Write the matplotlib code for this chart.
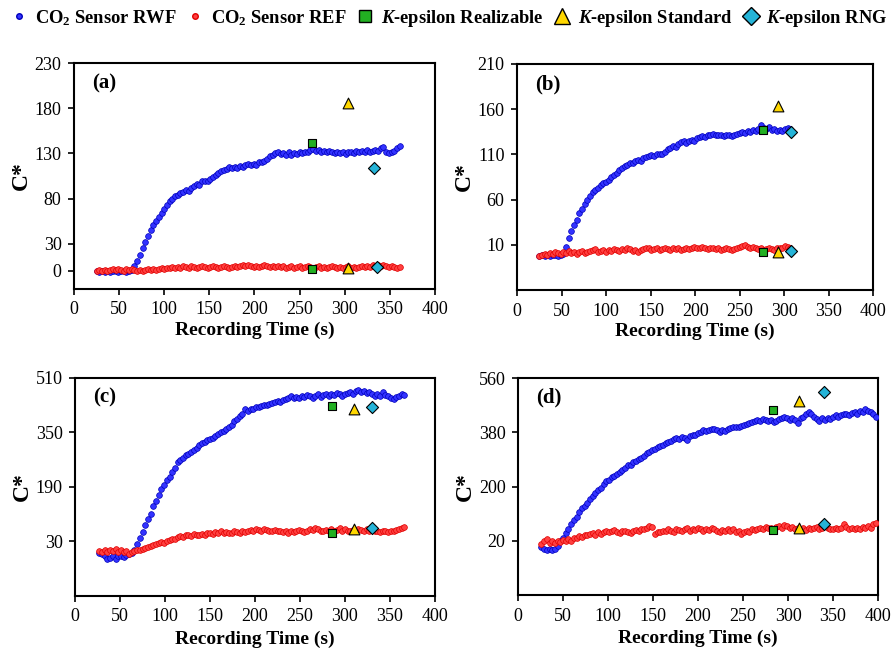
import numpy as np
import matplotlib
matplotlib.use("Agg")
import matplotlib.pyplot as plt
from matplotlib.lines import Line2D

plt.rcParams['font.family'] = ['Liberation Serif', 'DejaVu Serif']
plt.rcParams['mathtext.fontset'] = 'custom'
plt.rcParams['mathtext.rm'] = 'Liberation Serif:bold'
plt.rcParams['mathtext.bf'] = 'Liberation Serif:bold'
plt.rcParams['mathtext.it'] = 'Liberation Serif:italic:bold'
plt.rcParams['mathtext.default'] = 'bf'

# ---------------- data ----------------
# sampling: start time and step of each recorded series (s)
a_start, b_start, c_start, d_start = 25, 25, 27, 26
step = 3

a_rwf = [0, -1, 0, -1, 0, -1, 0, 0, -1, 0, 0, -1, 0, 1, 5, 11, 18, 25, 32, 39, 45, 51, 55, 60, 64, 68, 73, 77, 80, 83,
         84, 86, 87, 89, 88, 92, 94, 96, 95, 99, 100, 99, 102, 104, 106, 108, 110, 112, 113, 115, 114, 115, 114, 116, 115,
         117, 118, 117, 118, 117, 120, 121, 122, 124, 127, 128, 130, 131, 129, 130, 128, 131, 128, 130, 129, 131, 130, 132,
         131, 134, 135, 133, 134, 132, 133, 131, 133, 132, 130, 132, 130, 131, 129, 131, 132, 130, 133, 131, 133, 132, 134,
         132, 133, 134, 133, 136, 137, 131, 130, 132, 133, 136, 138]
a_ref = [0, 1, 0, 1, 0, 1, 2, 1, 2, 1, 0, 2, 1, 2, 1, 0, 1, 0, 1, 2, 1, 2, 1, 2, 3, 2, 3, 3, 4, 3, 4, 3, 5, 4, 3, 5, 4,
         3, 4, 5, 4, 3, 4, 5, 4, 3, 4, 5, 4, 3, 4, 5, 4, 5, 6, 5, 6, 5, 4, 5, 4, 5, 6, 5, 4, 5, 4, 5, 4, 5, 3, 4, 5, 3, 4,
         5, 3, 4, 5, 4, 3, 4, 5, 3, 4, 3, 4, 5, 4, 3, 4, 3, 4, 5, 3, 4, 3, 4, 5, 4, 5, 4, 6, 5, 6, 5, 6, 5, 4, 5, 4, 3, 4]

b_rwf = [-2, -1, -2, -1, -2, -1, -1, -2, -1, 0, 8, 17, 25, 32, 38, 45, 50, 55, 60, 64, 68, 71, 73, 76, 78, 80, 82, 85,
         87, 89, 93, 95, 97, 98, 100, 101, 103, 104, 103, 106, 107, 108, 109, 108, 110, 111, 110, 113, 116, 117, 119, 118,
         121, 124, 125, 123, 125, 126, 125, 128, 129, 130, 129, 131, 132, 133, 131, 132, 131, 130, 132, 131, 130, 132, 133,
         134, 135, 134, 136, 135, 137, 136, 138, 142, 139, 138, 140, 137, 138, 136, 137, 136, 138, 139, 138]
b_ref = [-2, -1, 0, -1, 1, 0, 2, 1, 0, 2, 1, 3, 1, 2, 0, 2, 3, 1, 2, 3, 4, 5, 2, 3, 4, 2, 4, 3, 5, 4, 3, 5, 4, 6, 5, 3,
         4, 2, 4, 5, 7, 6, 4, 5, 6, 4, 5, 6, 5, 4, 6, 5, 6, 4, 5, 6, 5, 7, 8, 6, 7, 8, 6, 5, 7, 6, 5, 6, 4, 5, 6, 5, 4, 5,
         6, 8, 9, 10, 8, 7, 8, 6, 5, 6, 4, 5, 6, 5, 4, 6, 7, 6, 9, 8, 7]

c_rwf = [-5, -8, -12, -22, -18, -14, -20, -14, -12, -16, -10, -8, -4, 5, 22, 40, 58, 77, 95, 110, 135, 150, 165, 185,
         195, 210, 220, 235, 245, 262, 270, 275, 283, 288, 292, 300, 305, 312, 318, 322, 328, 330, 334, 340, 345, 350, 355,
         360, 366, 372, 385, 390, 398, 405, 418, 412, 420, 418, 425, 424, 428, 430, 431, 434, 436, 440, 442, 440, 446, 448,
         452, 456, 450, 455, 452, 458, 454, 460, 456, 452, 458, 462, 455, 460, 464, 458, 463, 460, 465, 462, 458, 462, 466,
         470, 464, 472, 476, 468, 472, 466, 470, 462, 458, 462, 456, 468, 460, 456, 452, 448, 455, 458, 462, 460]
c_ref = [2, 0, 4, -2, 6, 3, 8, 0, 4, -2, 2, -6, 0, 2, 5, 4, 8, 10, 14, 16, 20, 22, 25, 28, 26, 30, 34, 36, 38, 42, 46,
         44, 48, 50, 46, 52, 50, 48, 52, 50, 54, 56, 52, 58, 54, 60, 56, 58, 54, 56, 60, 58, 56, 60, 58, 62, 64, 62, 66, 64,
         62, 66, 64, 60, 62, 64, 60, 62, 58, 60, 56, 62, 58, 60, 64, 60, 58, 62, 66, 64, 70, 66, 62, 60, 64, 62, 66, 60, 64,
         70, 62, 66, 62, 60, 64, 62, 66, 64, 62, 66, 62, 64, 60, 62, 58, 60, 62, 58, 60, 62, 64, 66, 70, 72]

d_rwf = [-2, -8, -12, -8, -12, -6, 2, 18, 30, 45, 60, 75, 88, 100, 115, 128, 135, 145, 158, 168, 178, 188, 195, 208, 218,
         222, 230, 236, 240, 248, 255, 262, 270, 272, 280, 285, 290, 296, 302, 310, 316, 322, 326, 330, 334, 338, 344, 348,
         352, 358, 362, 358, 364, 360, 356, 366, 370, 372, 378, 382, 386, 384, 388, 392, 390, 386, 382, 388, 384, 392, 394,
         396, 398, 396, 400, 404, 408, 410, 414, 416, 420, 418, 424, 420, 416, 420, 414, 418, 424, 428, 430, 426, 422, 426,
         420, 412, 428, 432, 440, 448, 440, 430, 424, 418, 426, 422, 428, 424, 430, 436, 432, 438, 440, 442, 436, 444, 448,
         440, 450, 446, 456, 452, 448, 440, 432]
d_ref = [8, 18, 26, 14, 20, 12, 18, 16, 22, 20, 26, 18, 28, 30, 36, 34, 40, 38, 42, 46, 40, 48, 44, 50, 54, 48, 52, 56,
         50, 46, 52, 54, 50, 46, 52, 56, 52, 58, 60, 64, 70, 66, 44, 50, 48, 54, 52, 58, 54, 50, 60, 56, 52, 58, 62, 54, 60,
         56, 62, 58, 54, 60, 56, 64, 58, 54, 50, 56, 52, 58, 54, 58, 48, 52, 44, 48, 54, 50, 58, 56, 60, 62, 58, 66, 62, 64,
         60, 66, 70, 64, 72, 68, 62, 66, 60, 62, 58, 64, 56, 62, 58, 64, 66, 60, 64, 68, 62, 58, 60, 64, 58, 62, 74, 66, 60,
         62, 58, 64, 60, 66, 62, 68, 64, 76, 80]

# CFD predictions: (time, value) for upper and lower points
a_real = ([264, 264], [141, 2]);  a_std = ([304, 304], [186, 3]);  a_rng = ([332, 336], [114, 4.5])
b_real = ([276, 276], [137, 1.5]); b_std = ([293, 293], [163, 2.6]); b_rng = ([308, 308], [135, 3.4])
c_real = ([286, 286], [428, 56]);  c_std = ([310, 310], [418, 66]);  c_rng = ([330, 330], [425, 70])
d_real = ([283, 283], [455, 55]);  d_std = ([312, 312], [485, 61]);  d_rng = ([340, 340], [515, 75])

panel_labels = ['(a)', '(b)', '(c)', '(d)']
ylims = [(-20, 230), (-40, 210), (-130, 510), (-160, 560)]
yticks = [[0, 30, 80, 130, 180, 230], [10, 60, 110, 160, 210], [30, 190, 350, 510], [20, 200, 380, 560]]
xticks = [0, 50, 100, 150, 200, 250, 300, 350, 400]

panels = [
    (a_start, a_rwf, a_ref, a_real, a_std, a_rng),
    (b_start, b_rwf, b_ref, b_real, b_std, b_rng),
    (c_start, c_rwf, c_ref, c_real, c_std, c_rng),
    (d_start, d_rwf, d_ref, d_real, d_std, d_rng),
]

positions = [
    [0.0831, 0.5561, 0.405, 0.3471],
    [0.5802, 0.5545, 0.400, 0.3472],
    [0.0842, 0.0845, 0.404, 0.3349],
    [0.5814, 0.0860, 0.404, 0.3333],
]

BLUE_F, BLUE_E = '#3333ff', '#0000bb'
RED_F, RED_E = '#ff4040', '#e00000'
GREEN, YELLOW, CYAN = '#22b022', '#ffd700', '#25b4d8'

fig = plt.figure(figsize=(8.91, 6.51), dpi=100)

for i, (start, rwf, ref, real, std, rng) in enumerate(panels):
    ax = fig.add_axes(positions[i])
    t_rwf = start + step * np.arange(len(rwf))
    t_ref = start + step * np.arange(len(ref))
    ax.scatter(t_rwf, rwf, s=17, facecolor=BLUE_F, edgecolor=BLUE_E, linewidths=0.5, zorder=3)
    ax.scatter(t_ref, ref, s=17, facecolor=RED_F, edgecolor=RED_E, linewidths=0.5, zorder=3)
    ax.scatter(real[0], real[1], marker='s', s=32, facecolor=GREEN, edgecolor='black', linewidths=0.8, zorder=4)
    ax.scatter(std[0], std[1], marker='^', s=60, facecolor=YELLOW, edgecolor='black', linewidths=0.8, zorder=4)
    ax.scatter(rng[0], rng[1], marker='D', s=38, facecolor=CYAN, edgecolor='black', linewidths=0.8, zorder=4)

    ax.set_xlim(0, 400)
    ax.set_ylim(*ylims[i])
    ax.set_xticks(xticks)
    ax.set_yticks(yticks[i])
    ax.tick_params(direction='out', length=4, width=1.2, labelsize=13, top=False, right=False, pad=5)
    for sp in ax.spines.values():
        sp.set_linewidth(1.5)
    ax.set_xlabel('Recording Time (s)', fontsize=14, fontweight='bold', labelpad=2 if i < 2 else 4)
    ax.set_ylabel('C*', fontsize=17, fontweight='bold', labelpad=2)
    ax.text(0.05, 0.91, panel_labels[i], transform=ax.transAxes, fontsize=15, fontweight='bold',
            va='center', ha='left')

handles = [
    Line2D([], [], linestyle='none', marker='o', markersize=4, markerfacecolor=BLUE_F, markeredgecolor=BLUE_E),
    Line2D([], [], linestyle='none', marker='o', markersize=4, markerfacecolor=RED_F, markeredgecolor=RED_E),
    Line2D([], [], linestyle='none', marker='s', markersize=8, markerfacecolor=GREEN, markeredgecolor='black'),
    Line2D([], [], linestyle='none', marker='^', markersize=11, markerfacecolor=YELLOW, markeredgecolor='black'),
    Line2D([], [], linestyle='none', marker='D', markersize=9, markerfacecolor=CYAN, markeredgecolor='black'),
]
labels = [r'CO$_{2}$ Sensor RWF', r'CO$_{2}$ Sensor REF', r'$\mathit{K}$-epsilon Realizable',
          r'$\mathit{K}$-epsilon Standard', r'$\mathit{K}$-epsilon RNG']
fig.legend(handles, labels, loc='upper left', bbox_to_anchor=(0.0, 1.005), ncol=5, frameon=False,
           prop={'weight': 'bold', 'size': 13.3}, handlelength=0.9, handletextpad=0.4, columnspacing=0.55,
           borderaxespad=0.2)

fig.savefig('out.png', dpi=100)
